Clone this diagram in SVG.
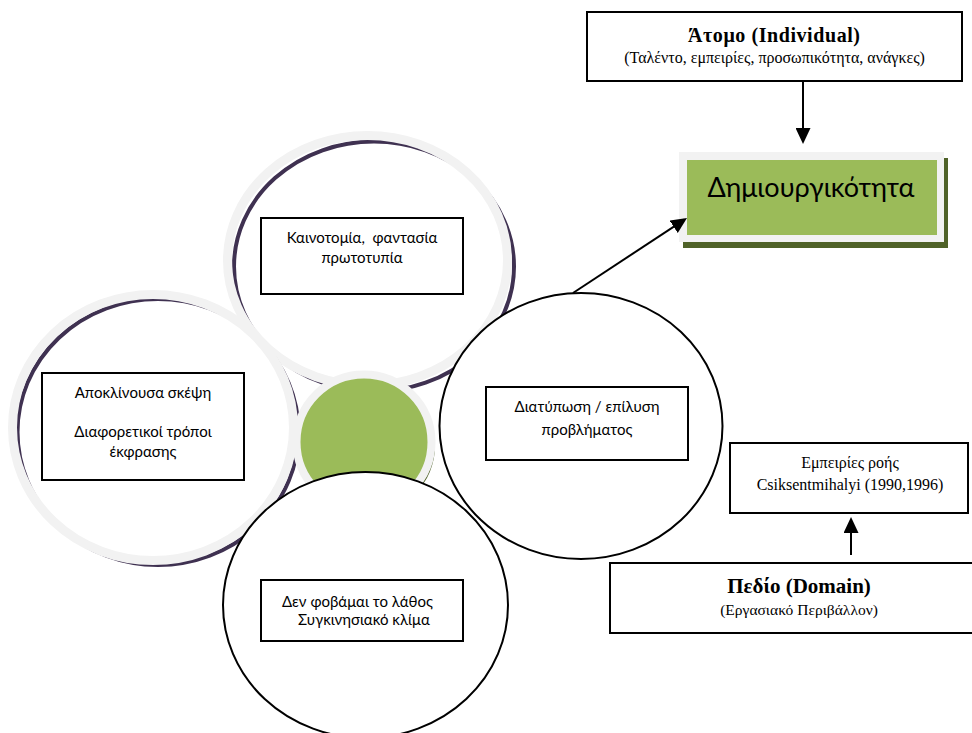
<svg xmlns="http://www.w3.org/2000/svg" width="972" height="733" viewBox="0 0 972 733">
<style>
.ring{fill:none;stroke:#f2f2f2;stroke-width:9}
.shade{fill:none;stroke:#3f3151;stroke-width:4}
.wc{fill:#fff;stroke:#000;stroke-width:2}
.box{fill:#fff;stroke:#000;stroke-width:2}
.sans{font-family:Lato,"Noto Sans","Liberation Sans",sans-serif;font-size:15px;fill:#000}
.serif{font-family:"Liberation Serif","Times New Roman",serif;fill:#000}
.conn{stroke:#000;stroke-width:2;fill:none}
</style>
<defs>
<marker id="ah" viewBox="0 0 16 15" refX="13" refY="7.5" markerWidth="16" markerHeight="15" orient="auto" markerUnits="userSpaceOnUse">
<path d="M0,0 L16,7.5 L0,15 z" fill="#000"/>
</marker>
</defs>
<rect width="972" height="733" fill="#fff"/>

<g id="circle-top">
<ellipse class="shade" cx="374" cy="266.5" rx="140" ry="125"/>
<ellipse class="ring" cx="367.5" cy="260.5" rx="140" ry="125"/>
</g>
<g id="circle-left">
<ellipse class="shade" cx="158" cy="432" rx="140.5" ry="133"/>
<ellipse class="ring" cx="153" cy="427.5" rx="140.5" ry="133"/>
</g>
<g id="center-circle">
<circle cx="368" cy="446" r="67" fill="#4f6228"/>
<circle cx="364" cy="442" r="67.5" fill="#9bbb59" stroke="#f2f2f2" stroke-width="8"/>
</g>
<g id="circle-right">
<ellipse class="wc" cx="581" cy="426" rx="141.5" ry="133"/>
</g>
<g id="circle-bottom">
<ellipse class="wc" cx="365.5" cy="605" rx="142.5" ry="133"/>
</g>

<g id="box-innovation">
<rect class="box" x="261" y="218" width="202" height="76"/>
<text class="sans" x="362" y="243" text-anchor="middle" xml:space="preserve">Καινοτομία,  φαντασία</text>
<text class="sans" x="362" y="263" text-anchor="middle">πρωτοτυπία</text>
</g>
<g id="box-divergent">
<rect class="box" x="42" y="373" width="202" height="107"/>
<text class="sans" x="143" y="398" text-anchor="middle">Αποκλίνουσα σκέψη</text>
<text class="sans" x="143" y="437" text-anchor="middle">Διαφορετικοί τρόποι</text>
<text class="sans" x="143" y="457" text-anchor="middle">έκφρασης</text>
</g>
<g id="box-problem">
<rect class="box" x="486" y="387" width="202" height="73"/>
<text class="sans" x="587" y="412" text-anchor="middle">Διατύπωση / επίλυση</text>
<text class="sans" x="587" y="435" text-anchor="middle">προβλήματος</text>
</g>
<g id="box-mistake">
<rect class="box" x="261" y="580" width="202" height="61"/>
<text class="sans" x="282" y="607">Δεν φοβάμαι το λάθος</text>
<text class="sans" x="298" y="625">Συγκινησιακό κλίμα</text>
</g>

<g id="node-individual">
<rect class="box" x="587" y="12" width="375" height="69"/>
<text class="serif" x="688" y="42" font-size="20" font-weight="bold" textLength="172" lengthAdjust="spacing">Άτομο (Individual)</text>
<text class="serif" x="774.5" y="63" text-anchor="middle" font-size="16">(Ταλέντο, εμπειρίες, προσωπικότητα, ανάγκες)</text>
</g>
<g id="node-creativity">
<rect x="683" y="158" width="265" height="90" fill="#4f6228"/>
<rect x="679" y="152" width="265" height="90" fill="#f2f2f2"/>
<rect x="687" y="160" width="250" height="75" fill="#9bbb59"/>
<text x="811" y="197" text-anchor="middle" font-family="Lato,'Noto Sans','Liberation Sans',sans-serif" font-size="27" fill="#000">Δημιουργικότητα</text>
</g>
<g id="node-flow">
<rect class="box" x="730" y="443" width="238" height="70"/>
<text class="serif" x="850" y="468" text-anchor="middle" font-size="16">Εμπειρίες ροής</text>
<text class="serif" x="850" y="490" text-anchor="middle" font-size="16">Csiksentmihalyi (1990,1996)</text>
</g>
<g id="node-domain">
<rect class="box" x="610" y="563" width="366" height="70"/>
<text class="serif" x="799" y="593" text-anchor="middle" font-size="21" font-weight="bold">Πεδίο (Domain)</text>
<text class="serif" x="799" y="615" text-anchor="middle" font-size="15.5">(Εργασιακό Περιβάλλον)</text>
</g>

<g id="connectors">
<line class="conn" x1="803" y1="82" x2="803" y2="141" marker-end="url(#ah)"/>
<line class="conn" x1="851" y1="555" x2="851" y2="520" marker-end="url(#ah)"/>
<line class="conn" x1="573" y1="293" x2="684.5" y2="219.6" marker-end="url(#ah)"/>
</g>
</svg>
